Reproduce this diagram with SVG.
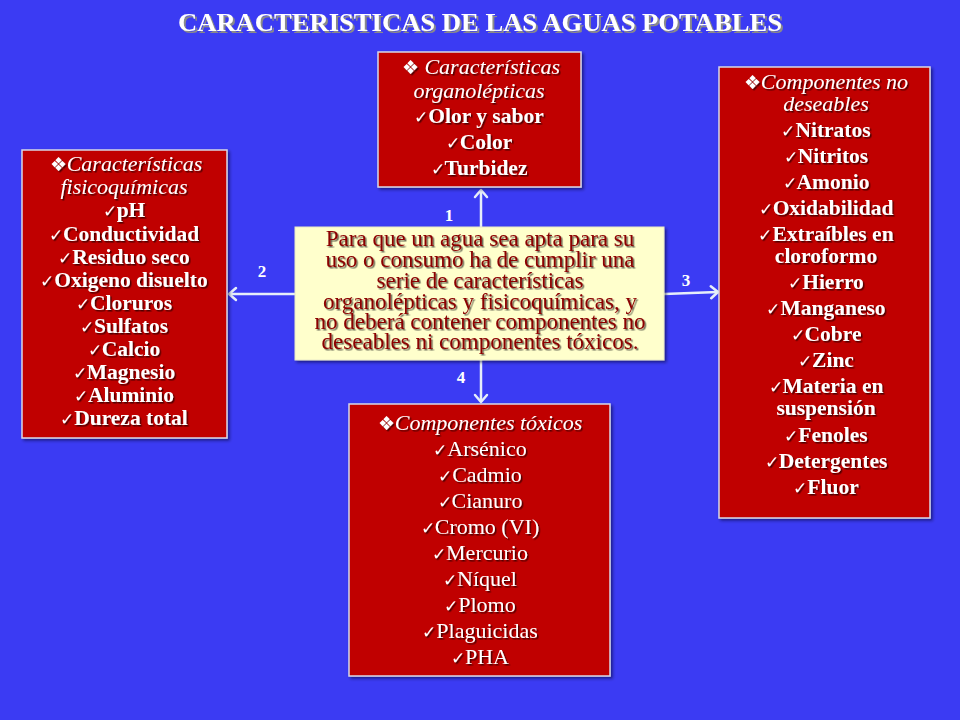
<svg xmlns="http://www.w3.org/2000/svg" width="960" height="720" viewBox="0 0 960 720">
<defs>
<filter id="ts" x="-10%" y="-30%" width="120%" height="160%">
<feDropShadow dx="1.5" dy="1.5" stdDeviation="0.6" flood-color="#000000" flood-opacity="0.6"/>
</filter>
<filter id="tts" x="-10%" y="-30%" width="120%" height="160%">
<feDropShadow dx="2" dy="2" stdDeviation="0.3" flood-color="#8a8a8a" flood-opacity="1"/>
</filter>
<filter id="bs" x="-10%" y="-10%" width="120%" height="120%">
<feDropShadow dx="2" dy="2" stdDeviation="1.5" flood-color="#000020" flood-opacity="0.5"/>
</filter>
<marker id="ah" markerUnits="userSpaceOnUse" markerWidth="16" markerHeight="16" viewBox="0 0 16 16" refX="13" refY="8" orient="auto">
<path d="M6,2 L13,8 L6,14" fill="none" stroke="#E6EEFA" stroke-width="2.5" stroke-linecap="round" stroke-linejoin="round"/>
</marker>
</defs>
<style>
.bg{fill:#3B3BF3}
.box{fill:#C00000;stroke:#D8D8E8;stroke-width:1.5}
.cbox{fill:#FFFFCC;stroke:#E8E8C8;stroke-width:1}
text{font-family:"Liberation Serif","Times New Roman",serif;text-anchor:middle}
.t{fill:#FFFFFF;font-size:21.5px;font-weight:bold}
.tr{fill:#FFFFFF;font-size:22px}
.h{fill:#FFFFFF;font-size:22px;font-style:italic}
.c{fill:#8B0000;font-size:23px}
.ck{font-size:17px;font-weight:normal;font-style:normal}
.bl{font-size:19px;font-weight:normal;font-style:normal}
.n{fill:#FFFFFF;font-size:17px;font-weight:bold}
.title{fill:#FFFFFF;font-size:26px;font-weight:bold}
.con{stroke:#E6EEFA;stroke-width:2.5;fill:none}
</style>
<rect class="bg" x="0" y="0" width="960" height="720"/>
<text class="title" x="480" y="31" filter="url(#tts)" textLength="604" lengthAdjust="spacingAndGlyphs">CARACTERISTICAS DE LAS AGUAS POTABLES</text>

<g id="connectors">
<line class="con" x1="481" y1="227" x2="481" y2="190" marker-end="url(#ah)"/>
<line class="con" x1="295" y1="294" x2="229" y2="294" marker-end="url(#ah)"/>
<line class="con" x1="664" y1="294" x2="718" y2="292" marker-end="url(#ah)"/>
<line class="con" x1="481" y1="360" x2="481" y2="402" marker-end="url(#ah)"/>
<text class="n" x="449" y="221">1</text>
<text class="n" x="262" y="277">2</text>
<text class="n" x="686" y="286">3</text>
<text class="n" x="461" y="383">4</text>
</g>

<g id="organolepticas">
<rect class="box" x="378" y="52" width="203" height="135" filter="url(#bs)"/>
<g filter="url(#ts)">
<text class="h" x="481" y="74"><tspan class="bl">❖</tspan> Características</text>
<text class="h" x="479" y="98">organolépticas</text>
<text class="t" x="479" y="123"><tspan class="ck">✓</tspan>Olor y sabor</text>
<text class="t" x="479" y="149"><tspan class="ck">✓</tspan>Color</text>
<text class="t" x="479" y="175"><tspan class="ck">✓</tspan>Turbidez</text>
</g>
</g>

<g id="fisicoquimicas">
<rect class="box" x="22" y="150" width="205" height="288" filter="url(#bs)"/>
<g filter="url(#ts)">
<text class="h" x="126" y="171"><tspan class="bl">❖</tspan>Características</text>
<text class="h" x="124" y="194">fisicoquímicas</text>
<text class="t" x="124" y="217"><tspan class="ck">✓</tspan>pH</text>
<text class="t" x="124" y="241"><tspan class="ck">✓</tspan>Conductividad</text>
<text class="t" x="124" y="264"><tspan class="ck">✓</tspan>Residuo seco</text>
<text class="t" x="124" y="287"><tspan class="ck">✓</tspan>Oxigeno disuelto</text>
<text class="t" x="124" y="310"><tspan class="ck">✓</tspan>Cloruros</text>
<text class="t" x="124" y="333"><tspan class="ck">✓</tspan>Sulfatos</text>
<text class="t" x="124" y="356"><tspan class="ck">✓</tspan>Calcio</text>
<text class="t" x="124" y="379"><tspan class="ck">✓</tspan>Magnesio</text>
<text class="t" x="124" y="402"><tspan class="ck">✓</tspan>Aluminio</text>
<text class="t" x="124" y="425"><tspan class="ck">✓</tspan>Dureza total</text>
</g>
</g>

<g id="central">
<rect class="cbox" x="295" y="227" width="369" height="133" filter="url(#bs)"/>
<g filter="url(#ts)">
<text class="c" x="480" y="246">Para que un agua sea apta para su</text>
<text class="c" x="480" y="267">uso o consumo ha de cumplir una</text>
<text class="c" x="480" y="288">serie de características</text>
<text class="c" x="480" y="309">organolépticas y fisicoquímicas, y</text>
<text class="c" x="480" y="329">no deberá contener componentes no</text>
<text class="c" x="480" y="349">deseables ni componentes tóxicos.</text>
</g>
</g>

<g id="no-deseables">
<rect class="box" x="719" y="67" width="211" height="451" filter="url(#bs)"/>
<g filter="url(#ts)">
<text class="h" x="826" y="89"><tspan class="bl">❖</tspan>Componentes no</text>
<text class="h" x="826" y="111">deseables</text>
<text class="t" x="826" y="137"><tspan class="ck">✓</tspan>Nitratos</text>
<text class="t" x="826" y="163"><tspan class="ck">✓</tspan>Nitritos</text>
<text class="t" x="826" y="189"><tspan class="ck">✓</tspan>Amonio</text>
<text class="t" x="826" y="215"><tspan class="ck">✓</tspan>Oxidabilidad</text>
<text class="t" x="826" y="241"><tspan class="ck">✓</tspan>Extraíbles en</text>
<text class="t" x="826" y="263">cloroformo</text>
<text class="t" x="826" y="289"><tspan class="ck">✓</tspan>Hierro</text>
<text class="t" x="826" y="315"><tspan class="ck">✓</tspan>Manganeso</text>
<text class="t" x="826" y="341"><tspan class="ck">✓</tspan>Cobre</text>
<text class="t" x="826" y="367"><tspan class="ck">✓</tspan>Zinc</text>
<text class="t" x="826" y="393"><tspan class="ck">✓</tspan>Materia en</text>
<text class="t" x="826" y="415">suspensión</text>
<text class="t" x="826" y="442"><tspan class="ck">✓</tspan>Fenoles</text>
<text class="t" x="826" y="468"><tspan class="ck">✓</tspan>Detergentes</text>
<text class="t" x="826" y="494"><tspan class="ck">✓</tspan>Fluor</text>
</g>
</g>

<g id="toxicos">
<rect class="box" x="349" y="404" width="261" height="272" filter="url(#bs)"/>
<g filter="url(#ts)">
<text class="h" x="480" y="430"><tspan class="bl">❖</tspan>Componentes  tóxicos</text>
<text class="tr" x="480" y="456"><tspan class="ck">✓</tspan>Arsénico</text>
<text class="tr" x="480" y="482"><tspan class="ck">✓</tspan>Cadmio</text>
<text class="tr" x="480" y="508"><tspan class="ck">✓</tspan>Cianuro</text>
<text class="tr" x="480" y="534"><tspan class="ck">✓</tspan>Cromo (VI)</text>
<text class="tr" x="480" y="560"><tspan class="ck">✓</tspan>Mercurio</text>
<text class="tr" x="480" y="586"><tspan class="ck">✓</tspan>Níquel</text>
<text class="tr" x="480" y="612"><tspan class="ck">✓</tspan>Plomo</text>
<text class="tr" x="480" y="638"><tspan class="ck">✓</tspan>Plaguicidas</text>
<text class="tr" x="480" y="664"><tspan class="ck">✓</tspan>PHA</text>
</g>
</g>
</svg>
